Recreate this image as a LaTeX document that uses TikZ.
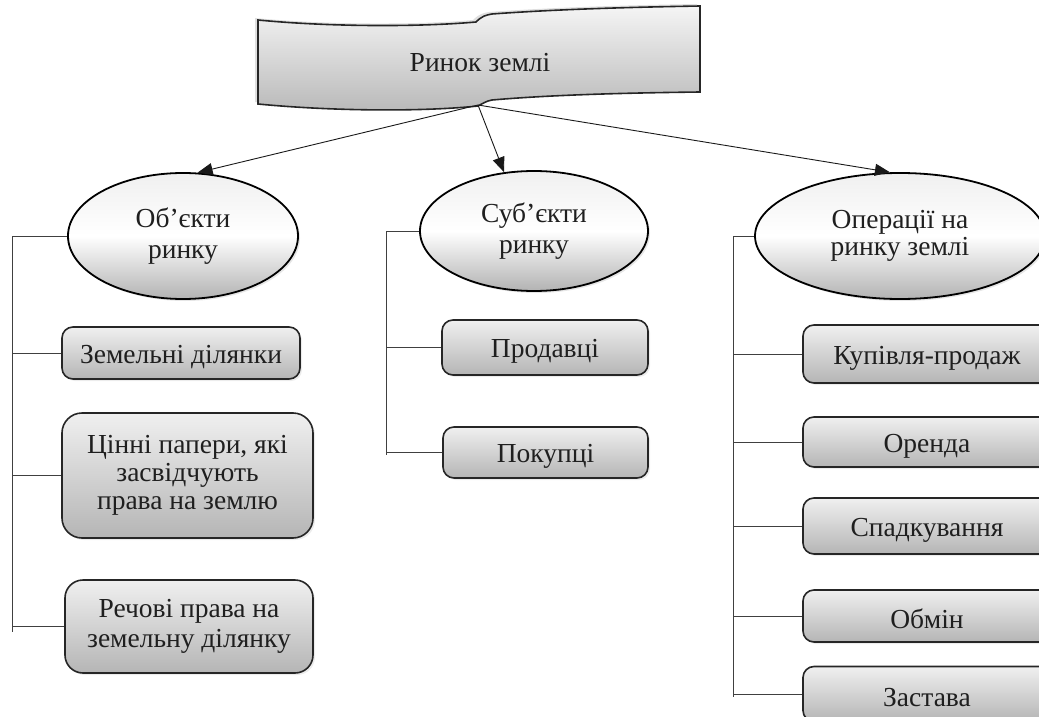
\documentclass[tikz,border=0pt]{standalone}
\usepackage{fontspec}
\setmainfont{Liberation Serif}
\usetikzlibrary{shapes.geometric,arrows.meta,shadows}

\begin{document}
\begin{tikzpicture}
        [x=1pt,y=-1pt,
         every node/.style={text=black!88,font=\fontsize{27.5}{30}\selectfont,align=center,inner sep=0pt},
         oval/.style={ellipse,draw=black,line width=1.8pt,top color=gray!12,bottom color=gray!60,middle color=white,
                      font=\fontsize{27.5}{31}\selectfont,
                      drop shadow={opacity=0.2,shadow xshift=2pt,shadow yshift=-2pt}},
         box/.style={rectangle,rounded corners=11pt,draw=black!85,line width=1.6pt,top color=gray!12,bottom color=gray!58,
                     execute at begin node={\rule{0pt}{26pt}},
                     drop shadow={opacity=0.15,shadow xshift=2pt,shadow yshift=-2pt}},
         link/.style={draw=black!75,line width=1pt},
         arr/.style={-{Triangle[length=15pt,width=12pt]},draw=black!90,line width=0.9pt}]
        \useasboundingbox (0,0) rectangle (1039,717);
        \clip (0,0) rectangle (1039,717);

        % banner
        \draw [line width=1.6pt,draw=black!85,top color=gray!8,bottom color=gray!55,
               drop shadow={opacity=0.25,shadow xshift=-3pt,shadow yshift=2pt}]
            (258,20) .. controls (330,27) and (420,27) .. (476,22)
            .. controls (482,16) and (486,15) .. (492,14)
            .. controls (560,9) and (640,7) .. (700,6)
            -- (700,92)
            .. controls (620,93) and (550,95) .. (492,100)
            .. controls (486,101) and (482,104) .. (478,106)
            .. controls (420,112) and (330,111) .. (258,104) -- cycle;
        \node (rynok) at (480,63) {Ринок землі};
        \coordinate (tail) at (478,105);

        \node [oval,minimum width=230pt,minimum height=126pt] (objekty) at (183,236) {Об’єкти\\ринку};
        \node [oval,minimum width=228pt,minimum height=120pt] (subjekty) at (534,231) {Суб’єкти\\ринку};
        \node [oval,minimum width=290pt,minimum height=126pt,font=\fontsize{27.5}{27}\selectfont,
               execute at begin node={\rule{0pt}{34pt}}] (operatsii) at (900,236) {Операції на\\ринку землі};

        \draw [arr] (tail) -- (objekty.77);
        \draw [arr] (tail) -- (subjekty.117);
        \draw [arr] (tail) -- (operatsii.99);

        \node [box,minimum width=238pt,minimum height=52pt] (zemdil) at (181,353) {Земельні ділянки};
        \node [box,rounded corners=20pt,minimum width=251pt,minimum height=125pt,font=\fontsize{27.5}{28}\selectfont,
               execute at begin node={\rule{0pt}{34pt}}] (tsinni) at (187.5,475.5) {Цінні папери, які\\засвідчують\\права на землю};
        \node [box,rounded corners=18pt,minimum width=248pt,minimum height=93pt] (rechovi) at (189,626.5) {Речові права на\\земельну ділянку};

        \node [box,minimum width=206pt,minimum height=55pt] (prodavtsi) at (545,347.5) {Продавці};
        \node [box,minimum width=205pt,minimum height=51pt] (pokuptsi) at (545.5,452.5) {Покупці};

        \node [box,minimum width=248pt,minimum height=58pt] (kupivlia) at (927,354) {Купівля-продаж};
        \node [box,minimum width=248pt,minimum height=50pt] (orenda) at (927,442) {Оренда};
        \node [box,minimum width=248pt,minimum height=56pt] (spadok) at (927,526) {Спадкування};
        \node [box,minimum width=248pt,minimum height=52pt] (obmin) at (927,616) {Обмін};
        \node [box,minimum width=248pt,minimum height=55pt] (zastava) at (927,694) {Застава};

        % brackets
        \coordinate (ltop) at (12,236);
        \coordinate (lbot) at (12,632);
        \coordinate (mtop) at (386,231);
        \coordinate (mbot) at (386,455);
        \coordinate (rtop) at (733,236);
        \coordinate (rbot) at (733,697);
        \draw [link] (ltop) -- (lbot);
        \draw [link] (mtop) -- (mbot);
        \draw [link] (rtop) -- (rbot);
        \foreach \n in {objekty,zemdil,tsinni,rechovi}
            \draw [link] (\n.west) -- (\n.west -| ltop);
        \foreach \n in {subjekty,prodavtsi,pokuptsi}
            \draw [link] (\n.west) -- (\n.west -| mtop);
        \foreach \n in {operatsii,kupivlia,orenda,spadok,obmin,zastava}
            \draw [link] (\n.west) -- (\n.west -| rtop);

    \end{tikzpicture}
\end{document}
